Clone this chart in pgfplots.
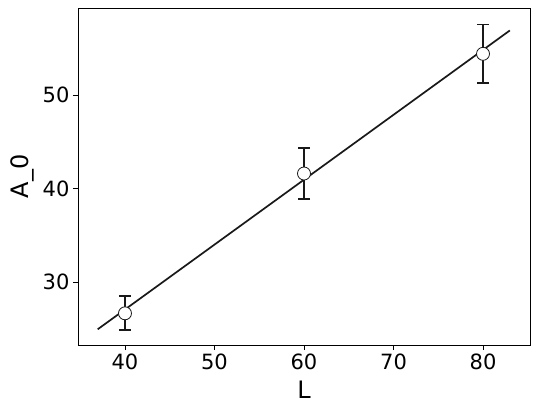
\documentclass[border=0pt]{standalone}
\usepackage{fontspec}
\setmainfont{DejaVu Sans}
\usepackage{pgfplots}
\pgfplotsset{compat=1.18}

\begin{document}
\begin{tikzpicture}[x=1pt,y=1pt]
\useasboundingbox (-78,-71) rectangle (462,345);
\begin{axis}[
    scale only axis,
    width=452pt, height=337pt,
    xmin=34.75, xmax=85.25,
    ymin=23.26, ymax=59.3,
    xtick={40,50,60,70,80},
    ytick={30,40,50},
    tick align=outside,
    tick pos=left,
    major tick length=5pt,
    every tick/.style={black, line width=0.8pt},
    axis line style={line width=0.8pt},
    tick label style={font=\fontsize{21}{24}\selectfont},
    /pgf/number format/assume math mode=true,
    xlabel={L},
    ylabel={A\_0},
    label style={font=\fontsize{24}{28}\selectfont},
    xlabel style={yshift=-5pt},
    ylabel style={yshift=2pt},
]
\addplot[black!90, line width=1.7pt] coordinates {(36.95,24.94) (83.0,56.9)};
\addplot[
    only marks,
    mark=*,
    mark size=6.5pt,
    mark options={fill=white, draw=black!90, line width=0.8pt},
    error bars/.cd,
    y dir=both, y explicit,
    error bar style={black!90, line width=1.7pt},
    error mark options={rotate=90, mark size=6pt, line width=1.7pt, black!90},
] coordinates {
    (40,26.65) +- (0,1.82)
    (60,41.6) +- (0,2.7)
    (80,54.4) +- (0,3.15)
};
\end{axis}
\end{tikzpicture}
\end{document}
